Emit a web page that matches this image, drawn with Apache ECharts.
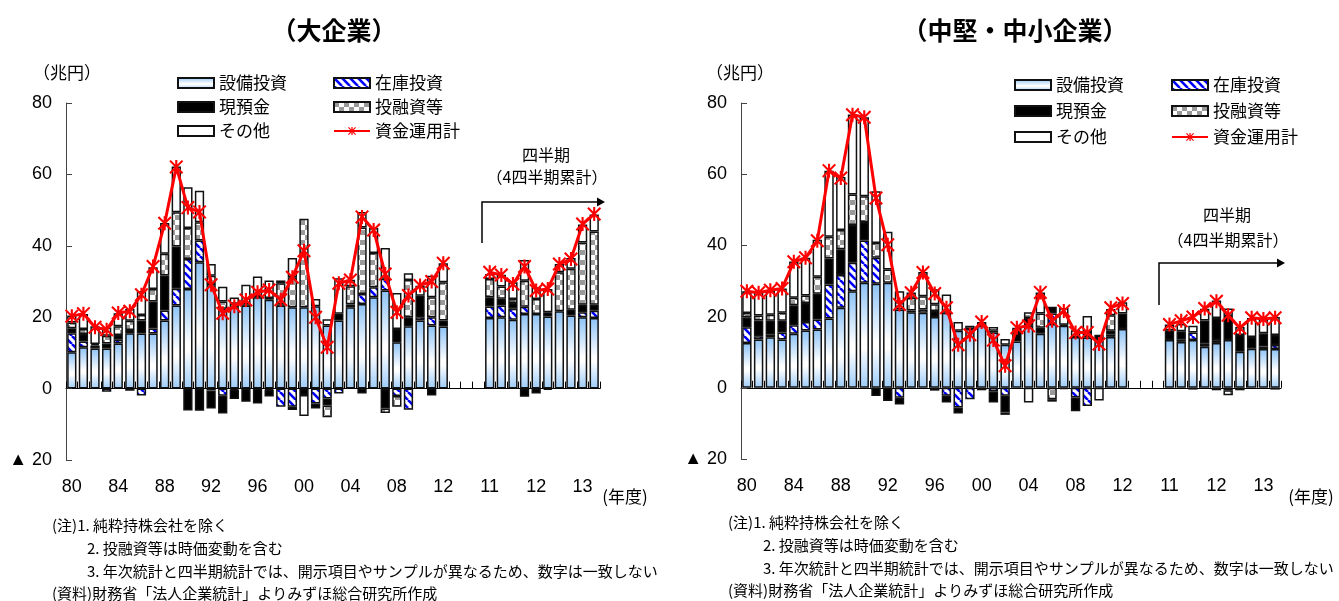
<!DOCTYPE html>
<html>
<head>
<meta charset="utf-8">
<script src="https://cdn.jsdelivr.net/npm/echarts@6/dist/echarts.min.js"></script>
<style>
  html, body { margin: 0; padding: 0; background: #ffffff; }
  #chart { width: 1339px; height: 601px; }
</style>
</head>
<body>
<div id="chart"></div>
<script>
// ---- categories -------------------------------------------------------
const annualYears = ['1980','1981','1982','1983','1984','1985','1986','1987','1988','1989',
  '1990','1991','1992','1993','1994','1995','1996','1997','1998','1999',
  '2000','2001','2002','2003','2004','2005','2006','2007','2008','2009',
  '2010','2011','2012'];
const gapSlots = ['gap1', 'gap2', 'gap3'];
const quarters = ['11Q1','11Q2','11Q3','11Q4','12Q1','12Q2','12Q3','12Q4','13Q1','13Q2'];
const tickLabels = { '1980':'80', '1984':'84', '1988':'88', '1992':'92', '1996':'96', '2000':'00',
  '2004':'04', '2008':'08', '2012':'12', '11Q1':'11', '12Q1':'12', '13Q1':'13' };
const seriesNames = ['設備投資', '在庫投資', '現預金', '投融資等', 'その他', '資金運用計'];

// ---- 大企業 (兆円), fiscal years 1980-2012 ---------------------------------
const largeEquipFY     = [10.2,11.6,11.2,11.2,12.6,15.5,15.4,15.4,19.1,23.3,27.9,35.4,29.3,22.4,22.8,23.3,25.6,24.9,23.3,22.8,22.8,23.1,17.7,19.1,22.8,23.7,25.6,27.5,13.0,17.5,19.1,17.7,17.4];
const largeInventoryFY = [5.3,1.6,0,-0.9,1.1,-0.6,-1.9,1.4,2.8,4.7,8.4,6.1,-0.5,-2.0,-0.3,0,0,-0.3,-5.1,-5.1,0,-4.2,-2.8,-1.4,0,2.8,2.8,3.3,-2.1,-5.9,0.9,2.3,0];
const largeCashFY      = [1.4,2.1,0.9,1.4,1.3,0.9,3.7,7.6,9.8,11.8,-6.1,-6.2,-5.1,-5.0,-2.6,-3.7,-4.2,-1.9,0.3,-0.9,-1.8,-1.4,-1.9,1.9,0.8,-1.4,0,-5.6,3.7,2.5,6.0,-1.9,1.7];
const largeInvestFY    = [1.6,1.4,0.4,2.2,2.5,2.6,1.5,3.5,6.1,9.6,8.7,5.1,2.3,2.0,1.0,0.3,0.3,0.5,5.9,8.4,24.8,0,-3.3,0,5.1,18.6,9.6,-1.2,-3.0,10.4,0,5.6,10.7];
const largeOtherFY     = [2.0,4.2,5.0,2.3,3.6,3.3,6.7,6.1,8.6,12.8,11.4,8.8,3.3,4.1,1.7,5.5,5.5,4.9,0.8,5.4,-5.9,2.0,1.7,9.9,1.8,4.4,7.0,8.6,10.1,1.9,2.8,6.0,5.3];
const largeTotalFY     = [20.3,21.0,17.2,16.5,21.2,21.7,26.3,34.2,46.3,62.1,50.7,49.5,29.1,21.1,23.1,24.8,27.0,27.6,24.9,31.2,38.6,20.0,11.6,29.5,30.4,48.1,44.4,32.1,21.4,26.1,28.9,30.0,35.1];

// ---- 大企業, quarterly (4-quarter cumulative) -------------------------------
const largeEquipQ     = [19.8,20.0,19.3,20.9,20.9,20.2,21.7,20.5,20.0,19.8];
const largeInventoryQ = [3.2,3.3,3.1,2.0,0,-0.3,0,0,1.4,2.0];
const largeCashQ      = [2.6,1.9,1.6,-2.3,-1.4,1.2,0,1.6,2.1,1.7];
const largeInvestQ    = [5.1,3.4,1.1,7.3,4.2,0,10.9,11.5,17.4,20.5];
const largeOtherQ     = [1.4,3.3,4.7,5.8,3.3,6.5,2.3,3.0,5.1,4.8];
const largeTotalQ     = [32.6,31.8,29.3,34.2,27.5,27.9,34.9,36.3,46.1,48.9];

// ---- 中堅・中小企業 (兆円), fiscal years 1980-2012 ---------------------------
const smeEquipFY     = [12.6,13.6,14.2,13.6,15.2,16.1,16.4,19.5,22.5,27.1,29.5,29.2,29.5,22.0,21.2,21.1,19.9,21.1,16.0,16.5,17.4,15.5,12.1,13.0,17.4,15.2,17.9,17.4,14.3,14.1,13.7,14.3,16.5];
const smeInventoryFY = [4.4,0.9,0.7,1.9,2.4,2.4,2.8,9.5,9.2,8.0,11.9,7.3,0,-2.8,0,0.9,-0.8,-2.2,-5.5,-3.2,-0.7,-1.0,-2.2,0,0,0,3.0,-0.4,-2.7,-5.1,0,0.7,0];
const smeCashFY      = [2.8,4.4,3.9,3.3,5.6,5.3,7.2,7.3,7.2,10.6,5.2,-2.3,-3.7,-1.9,0.5,0,1.7,-1.9,-1.7,0,1.1,-3.1,-4.7,2.7,2.2,1.7,1.9,0.3,-3.9,0.6,1.2,1.0,4.4];
const smeInvestFY    = [1.2,1.4,1.7,2.3,2.1,2.1,4.8,6.1,5.4,8.6,7.2,4.2,3.7,2.1,3.6,3.7,1.9,0,0,0,0,0.5,-0.7,0,1.6,4.0,-3.2,0,0,1.0,0,4.4,0];
const smeOtherFY     = [6.1,6.6,6.9,6.8,10.2,10.6,10.4,18.6,14.9,22.5,22.2,14.5,10.6,3.0,1.5,6.8,4.2,5.1,2.5,0.9,0,1.1,1.6,1.2,-4.1,5.9,-0.7,4.7,1.9,4.5,-3.6,1.7,3.1];
const smeTotalFY     = [27.1,26.7,27.4,27.9,35.4,36.5,41.3,61.0,58.9,76.7,76.0,53.3,40.2,23.4,26.7,32.4,26.5,22.5,12.1,14.9,18.5,13.4,6.2,16.9,17.4,26.8,18.8,21.6,15.5,15.5,12.3,22.5,23.7];

// ---- 中堅・中小企業, quarterly (4-quarter cumulative) ------------------------
const smeEquipQ     = [13.4,12.9,13.4,11.5,12.6,13.4,10.1,11.0,10.9,10.9];
const smeInventoryQ = [0,0.6,2.1,0.9,0.8,-0.7,-0.7,0,0.7,1.1];
const smeCashQ      = [2.8,2.4,0,6.5,6.2,6.8,4.7,3.3,3.7,2.8];
const smeInvestQ    = [0,0,-0.5,0,-0.7,-1.4,0,0,0,-0.5];
const smeOtherQ     = [1.6,2.0,1.9,3.3,4.9,2.1,2.3,5.3,4.0,5.1];
const smeTotalQ     = [17.8,18.8,19.9,22.3,24.3,20.4,16.8,19.7,19.3,19.7];

// ---- fills ---------------------------------------------------------------
function makeHatch() {
  const c = document.createElement('canvas');
  c.width = 8; c.height = 8;
  const g = c.getContext('2d');
  g.fillStyle = '#ffffff'; g.fillRect(0, 0, 8, 8);
  g.strokeStyle = '#0000ff'; g.lineWidth = 2.6;
  for (const k of [-8, 0, 8]) {
    g.beginPath(); g.moveTo(k, 0); g.lineTo(k + 8, 8); g.stroke();
  }
  return { image: c, repeat: 'repeat' };
}
function makeChecker() {
  const c = document.createElement('canvas');
  c.width = 10; c.height = 10;
  const g = c.getContext('2d');
  g.fillStyle = '#ffffff'; g.fillRect(0, 0, 10, 10);
  g.fillStyle = '#9a9a9a';
  g.fillRect(0, 0, 5, 5); g.fillRect(5, 5, 5, 5);
  return { image: c, repeat: 'repeat' };
}
const equipFill = {
  type: 'linear', x: 0, y: 0, x2: 0, y2: 1,
  colorStops: [
    { offset: 0, color: '#8cc2f6' },
    { offset: 0.55, color: '#ffffff' },
    { offset: 0.62, color: '#ffffff' },
    { offset: 1, color: '#9ccbf8' }
  ]
};
const fills = [equipFill, makeHatch(), '#000000', makeChecker(), '#ffffff'];
const asterisk = 'path://M8.5,0L11.5,0L11.5,20L8.5,20Z M0,2.1L2.1,0L20,17.9L17.9,20Z M17.9,0L20,2.1L2.1,20L0,17.9Z';

const categories = annualYears.concat(gapSlots, quarters);
function joinData(fy, q) {
  return fy.concat(gapSlots.map(() => null), q).map(v => (v === 0 ? null : v));
}

function chartSeries(idx, parts, total) {
  const list = parts.map((pair, i) => ({
    name: seriesNames[i],
    type: 'bar',
    stack: 'flow' + idx,
    xAxisIndex: idx, yAxisIndex: idx,
    barCategoryGap: '20%',
    data: joinData(pair[0], pair[1]),
    itemStyle: { color: fills[i], borderColor: '#111111', borderWidth: 1.5 },
    emphasis: { disabled: true },
    silent: true
  }));
  list.push({
    name: seriesNames[5],
    type: 'line',
    xAxisIndex: idx, yAxisIndex: idx,
    data: joinData(total[0], total[1]),
    connectNulls: false,
    symbol: asterisk,
    symbolSize: 14,
    lineStyle: { color: '#ff0000', width: 3 },
    itemStyle: { color: '#ff0000' },
    emphasis: { disabled: true },
    silent: true,
    z: 5
  });
  return list;
}

const numFont = "'Liberation Sans Narrow', 'Liberation Sans', sans-serif";
const cjkFont = "'Noto Sans CJK JP', sans-serif";

function xAxisFor(idx) {
  return {
    type: 'category', gridIndex: idx, data: categories,
    axisLine: { onZero: true, lineStyle: { color: '#000000', width: 1 } },
    axisTick: { show: true, inside: true, length: 7, interval: 0, lineStyle: { color: '#000000' } },
    axisLabel: {
      interval: 0, margin: 18, color: '#000000', fontSize: 18, fontFamily: numFont,
      formatter: v => tickLabels[v] || ''
    },
    splitLine: { show: false }
  };
}
function yAxisFor(idx) {
  return {
    type: 'value', gridIndex: idx, min: -20, max: 80, interval: 20,
    axisLine: { show: true, lineStyle: { color: '#444444', width: 1 } },
    axisTick: { show: true, inside: true, length: 6, lineStyle: { color: '#444444' } },
    axisLabel: {
      margin: 14, color: '#000000', fontSize: 18, fontFamily: numFont,
      formatter: v => (v < 0 ? '▲ ' + (-v) : String(v))
    },
    splitLine: { show: false }
  };
}
function legendColumn(left, top, gap, names) {
  return {
    orient: 'vertical', left: left, top: top, padding: 0,
    itemWidth: 36, itemHeight: 10, itemGap: gap,
    selectedMode: false,
    textStyle: { fontSize: 17, lineHeight: 18, color: '#000000', fontFamily: cjkFont },
    data: names.map(n => (n === '資金運用計' ? { name: n } : { name: n, icon: 'rect' }))
  };
}
function txt(x, y, text, font, align) {
  return {
    type: 'text', x: x, y: y, silent: true,
    style: {
      text: text, font: font, fill: '#000000',
      align: align || 'left', verticalAlign: 'middle',
      textAlign: align || 'left', textVerticalAlign: 'middle'
    }
  };
}
function arrow(x0, yBottom, yTop, xEnd) {
  return [
    { type: 'polyline', silent: true, shape: { points: [[x0, yBottom], [x0, yTop], [xEnd - 6, yTop]] },
      style: { stroke: '#000000', lineWidth: 1.5, fill: null } },
    { type: 'polygon', silent: true, shape: { points: [[xEnd - 8, yTop - 4.5], [xEnd, yTop], [xEnd - 8, yTop + 4.5]] },
      style: { fill: '#000000' } }
  ];
}

const noteFont = "15px 'Noto Sans CJK JP', sans-serif";
function notes(x, y) {
  return [
    txt(x, y, '(注)1. 純粋持株会社を除く', noteFont),
    txt(x + 35, y + 23, '2. 投融資等は時価変動を含む', noteFont),
    txt(x + 35, y + 46, '3. 年次統計と四半期統計では、開示項目やサンプルが異なるため、数字は一致しない', noteFont),
    txt(x, y + 68, '(資料)財務省「法人企業統計」よりみずほ総合研究所作成', noteFont)
  ];
}

const option = {
  animation: false,
  textStyle: { fontFamily: cjkFont },
  grid: [
    { left: 66, width: 534, top: 103, height: 357 },
    { left: 741, width: 540, top: 103, height: 356 }
  ],
  xAxis: [xAxisFor(0), xAxisFor(1)],
  yAxis: [yAxisFor(0), yAxisFor(1)],
  legend: [
    legendColumn(177, 74, 6, ['設備投資', '現預金', 'その他']),
    legendColumn(333, 74, 6, ['在庫投資', '投融資等', '資金運用計']),
    legendColumn(1014, 76, 8, ['設備投資', '現預金', 'その他']),
    legendColumn(1171, 76, 8, ['在庫投資', '投融資等', '資金運用計'])
  ],
  series: [].concat(
    chartSeries(0, [
      [largeEquipFY, largeEquipQ], [largeInventoryFY, largeInventoryQ], [largeCashFY, largeCashQ],
      [largeInvestFY, largeInvestQ], [largeOtherFY, largeOtherQ]
    ], [largeTotalFY, largeTotalQ]),
    chartSeries(1, [
      [smeEquipFY, smeEquipQ], [smeInventoryFY, smeInventoryQ], [smeCashFY, smeCashQ],
      [smeInvestFY, smeInvestQ], [smeOtherFY, smeOtherQ]
    ], [smeTotalFY, smeTotalQ])
  ),
  graphic: [].concat(
    [
      txt(334, 30, '（大企業）', "bold 25px 'Noto Sans CJK JP', sans-serif", 'center'),
      txt(1015, 30, '（中堅・中小企業）', "bold 25px 'Noto Sans CJK JP', sans-serif", 'center'),
      txt(67, 73, '（兆円）', "17px 'Noto Sans CJK JP', sans-serif", 'center'),
      txt(740, 73, '（兆円）', "17px 'Noto Sans CJK JP', sans-serif", 'center'),
      txt(625, 497, '(年度)', "17px 'Noto Sans CJK JP', sans-serif", 'center'),
      txt(1311, 497, '(年度)', "17px 'Noto Sans CJK JP', sans-serif", 'center'),
      txt(546, 155, '四半期', "16px 'Noto Sans CJK JP', sans-serif", 'center'),
      txt(547, 177, '（4四半期累計）', "16px 'Noto Sans CJK JP', sans-serif", 'center'),
      txt(1227, 215, '四半期', "16px 'Noto Sans CJK JP', sans-serif", 'center'),
      txt(1228, 240, '（4四半期累計）', "16px 'Noto Sans CJK JP', sans-serif", 'center')
    ],
    arrow(482, 243, 202, 605),
    arrow(1159, 305, 263, 1285),
    notes(52, 525),
    notes(728, 522)
  )
};

const chart = echarts.init(document.getElementById('chart'), null, { renderer: 'canvas' });
chart.setOption(option);
</script>
</body>
</html>
